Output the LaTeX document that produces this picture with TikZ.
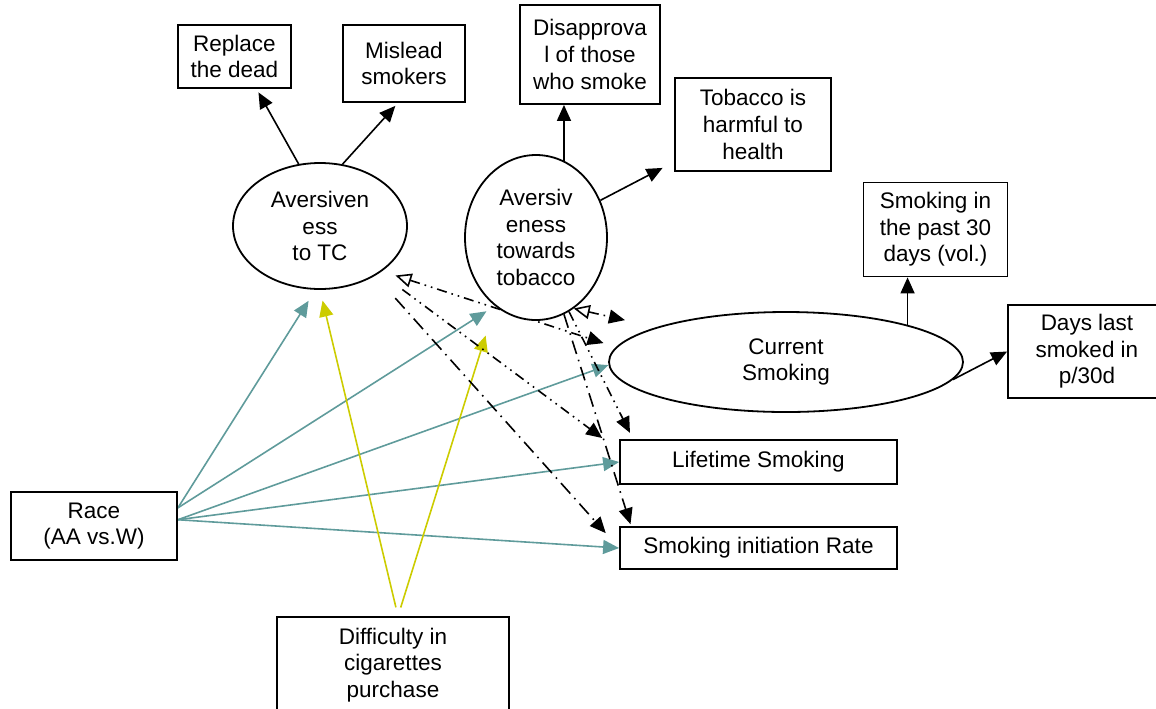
\documentclass[tikz,border=0pt]{standalone}
\usepackage{fontspec}
\setmainfont{Liberation Sans}
\usetikzlibrary{shapes.geometric,arrows.meta,calc,backgrounds}
\definecolor{raceteal}{RGB}{95,155,155}
\definecolor{buyyellow}{RGB}{204,204,0}
\tikzset{box/.style={draw,line width=0.9pt,fill=white,align=center,inner sep=0pt,
        font=\fontsize{11.25}{13.3}\selectfont},
    oval/.style={box,ellipse},
    link/.style={line width=0.8pt,-{Triangle[length=8pt,width=7pt]}},
    openLink/.style={line width=0.8pt,{Triangle[open,length=8pt,width=7pt]}-{Triangle[length=8pt,width=7pt]}},
    raceLink/.style={link,raceteal},
    buyLink/.style={link,buyyellow},
    dashDotDot/.style={dash pattern=on 5pt off 2.5pt on 0.8pt off 2.5pt on 0.8pt off 2.5pt},
    dashDot/.style={dash pattern=on 7pt off 3pt on 0.8pt off 3pt},
    }
\begin{document}
\begin{tikzpicture}[x=0.5pt,y=-0.5pt]
	\useasboundingbox (0,0) rectangle (1156,708);
	\node[box,minimum width=56.5pt,minimum height=31.5pt] (replaceDead) at (234.5,56.5) {Replace\\the dead};
	\node[box,minimum width=61pt,minimum height=38.5pt] (misleadSmk) at (404,63.5) {Mislead\\smokers};
	\node[box,minimum width=70pt,minimum height=49.5pt] (disapprov) at (590,54.5) {Disapprova\\l of those\\who smoke};
	\node[box,minimum width=78pt,minimum height=46.5pt] (harmHealth) at (753,124.5) {Tobacco is\\harmful to\\health};
	\node[box,minimum width=72pt,minimum height=47pt] (past30d) at (935.5,229.5) {Smoking in\\the past 30\\days (vol.)};
	\node[box,minimum width=79pt,minimum height=46.5pt] (daysLast) at (1087,351.5) {Days last\\smoked in\\p/30d};
	\node[oval,minimum width=87pt,minimum height=63pt] (avTC) at (320,226) {Aversiven\\ess\\to TC};
	\node[oval,minimum width=71pt,minimum height=82.5pt] (avTob) at (536,237.5) {Aversiv\\eness\\towards\\tobacco};
	\node[oval,minimum width=177pt,minimum height=50pt] (curSmoking) at (786,362) {Current\\Smoking};
	\node[box,minimum width=138.5pt,minimum height=22pt] (lifeSmoking) at (758.5,462) {Lifetime Smoking};
	\node[box,minimum width=138.5pt,minimum height=21pt] (initRate) at (758.5,548) {Smoking initiation Rate};
	\node[box,minimum width=83pt,minimum height=34pt] (race) at (94,526) {Race\\(AA vs.W)};
	\node[box,minimum width=116pt,minimum height=48pt] (difficulty) at (393,665) {Difficulty in\\cigarettes\\purchase};

	\begin{scope}[on background layer]
	\draw[link,shorten >=2pt] (avTC.109) -- ($(replaceDead.south)+(22,0)$);
	\draw[link,shorten >=2pt] (avTC.70) -- ($(misleadSmk.south)+(-6,0)$);
	\draw[link] (avTob.70) -- (avTob.70 |- disapprov.south);
	\draw[link,shorten >=6.5pt] (avTob.30) -- ($(harmHealth.south west)+(0,-10)$);
	\draw[link] (curSmoking.17) -- (curSmoking.17 |- past30d.south);
	\draw[link] (curSmoking.-6) -- (daysLast.west);

	\draw[raceLink,shorten >=6.5pt] ($(race.north east)!0.24!(race.south east)$) -- (avTC.-94.5);
	\draw[raceLink,shorten >=5pt] ($(race.north east)!0.24!(race.south east)$) -- (avTob.-121);
	\draw[raceLink] ($(race.north east)!0.41!(race.south east)$) -- (curSmoking.181);
	\draw[raceLink] ($(race.north east)!0.41!(race.south east)$) -- (lifeSmoking.west);
	\draw[raceLink] ($(race.north east)!0.41!(race.south east)$) -- (initRate.west);

	\draw[buyLink,shorten <=4.5pt,shorten >=5.5pt] ($(difficulty.north)+(5,0)$) -- (avTC.-90);
	\draw[buyLink,shorten <=4.5pt,shorten >=15.5pt] ($(difficulty.north)+(5,0)$) -- (avTob.-121);

	\draw[openLink,dashDotDot,shorten <=7pt,shorten >=6.5pt] (avTC.-36) -- (curSmoking.175.6);
	\draw[link,dashDotDot,shorten <=14pt,shorten >=10.5pt] (avTC.-38) -- ($(lifeSmoking.north west)!0.25!(lifeSmoking.south west)$);
	\draw[link,dashDot,shorten <=15pt,shorten >=10pt] (avTC.-42) -- (initRate.west);
	\draw[openLink,dashDotDot,shorten >=16pt] (avTob.-62) -- (curSmoking.165);
	\draw[link,dashDotDot,shorten >=3.5pt] (avTob.-66) -- ($(lifeSmoking.north west)+(14,0)$);
	\draw[link,dashDot,shorten >=1pt] (avTob.-70) -- ($(initRate.north west)+(12,0)$);
	\end{scope}
\end{tikzpicture}
\end{document}
